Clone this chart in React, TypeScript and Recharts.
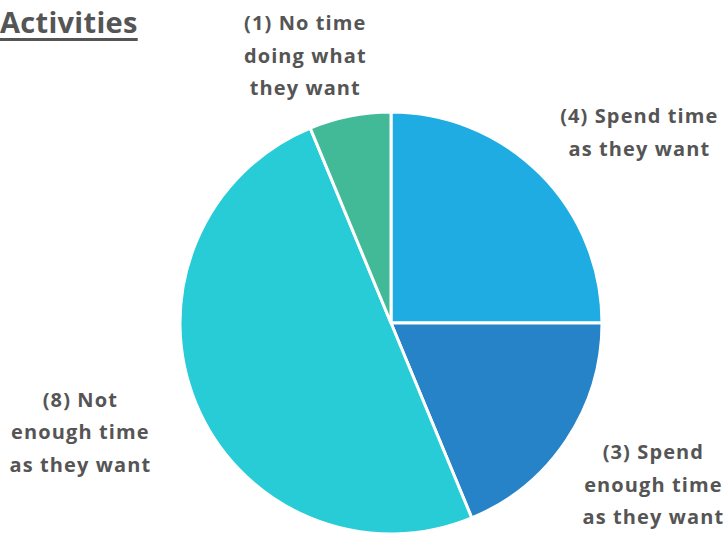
import { PieChart, Pie, Cell } from 'recharts'

const categories = ['(4) Spend time as they want', '(3) Spend enough time as they want', '(8) Not enough time as they want', '(1) No time doing what they want']
const counts = [4, 3, 8, 1]
const labelLines = [
  ['(4) Spend time', 'as they want'],
  ['(3) Spend', 'enough time', 'as they want'],
  ['(8) Not', 'enough time', 'as they want'],
  ['(1) No time', 'doing what', 'they want'],
]
const colors = ['#1EACE3', '#2683C8', '#27CCD7', '#42BA98']

// nudges so the labels sit where the original put them
const nudge = [
  [32, 25],
  [8, -9],
  [-28, -9],
  [-26, 32],
]

const data = categories.map((name, i) => ({ name, value: counts[i] }))

const RAD = Math.PI / 180
const FONT = '"Open Sans", sans-serif'
const LINE_H = 32.5

function renderLabel(props: any) {
  const { cx, cy, midAngle, outerRadius, index } = props
  const r = outerRadius * 1.45
  const x = cx + r * Math.cos(-midAngle * RAD) + nudge[index][0]
  const y = cy + r * Math.sin(-midAngle * RAD) + nudge[index][1]
  const lines = labelLines[index]
  const top = y - ((lines.length - 1) * LINE_H) / 2
  return (
    <text
      key={index}
      x={x}
      y={top}
      textAnchor="middle"
      dominantBaseline="central"
      fill="#555555"
      fontFamily={FONT}
      fontWeight={700}
      fontSize={20}
      letterSpacing={1.1}
    >
      {lines.map((l, j) => (
        <tspan key={j} x={x} dy={j === 0 ? 0 : LINE_H}>{l}</tspan>
      ))}
    </text>
  )
}

export default function App() {
  return (
    <div style={{ position: 'fixed', left: 0, top: 0, width: 724, height: 533, background: '#fff', overflow: 'hidden' }}>
      <div
        style={{
          position: 'absolute', left: 0, top: 2,
          fontFamily: FONT, fontWeight: 700, fontSize: 29, color: '#555555',
          textDecoration: 'underline', textDecorationThickness: 3, textUnderlineOffset: 5,
          letterSpacing: 0.3,
        }}
      >
        Activities
      </div>
      <PieChart width={724} height={533} margin={{ top: 0, right: 0, bottom: 0, left: 0 }}>
        <Pie
          data={data}
          dataKey="value"
          nameKey="name"
          cx={391}
          cy={323}
          outerRadius={211}
          startAngle={90}
          endAngle={-270}
          stroke="#ffffff"
          strokeWidth={3}
          label={renderLabel}
          labelLine={false}
          isAnimationActive={false}
        >
          {data.map((d, i) => (
            <Cell key={d.name} fill={colors[i]} />
          ))}
        </Pie>
      </PieChart>
    </div>
  )
}
